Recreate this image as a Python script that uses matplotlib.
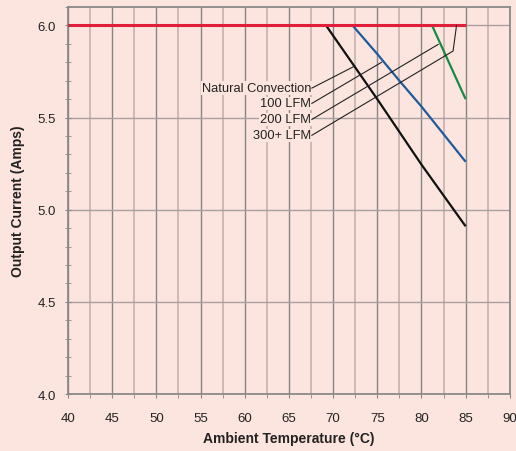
import matplotlib
matplotlib.use("Agg")
import matplotlib.pyplot as plt
from matplotlib import font_manager
from matplotlib.ticker import MultipleLocator

names = {f.name for f in font_manager.fontManager.ttflist}
fam = ["Liberation Sans Narrow"] if "Liberation Sans Narrow" in names else ["Liberation Sans", "DejaVu Sans"]
plt.rcParams["font.family"] = fam + ["DejaVu Sans"]

# Data
temp_nc = [40, 69.2, 75, 80, 85]
amps_nc = [6.0, 6.0, 5.60, 5.245, 4.91]
temp_100 = [40, 72.2, 75, 77.5, 80, 82.5, 85]
amps_100 = [6.0, 6.0, 5.845, 5.70, 5.56, 5.41, 5.26]
temp_200 = [40, 81.2, 85]
amps_200 = [6.0, 6.0, 5.60]
temp_300 = [40, 85]
amps_300 = [6.0, 6.0]
labels = ["Natural Convection", "100 LFM", "200 LFM", "300+ LFM"]
x_ticks = [40, 45, 50, 55, 60, 65, 70, 75, 80, 85, 90]
y_ticks = [4.0, 4.5, 5.0, 5.5, 6.0]

bg = "#FDE5DF"
fig = plt.figure(figsize=(5.16, 4.52), dpi=100, facecolor=bg)
ax = fig.add_axes([0.1318, 0.1261, 0.8562, 0.8562])
ax.set_facecolor(bg)

ax.set_xlim(40, 90)
ax.set_ylim(4.0, 6.1)
ax.set_xticks(x_ticks)
ax.set_yticks(y_ticks)
ax.set_yticklabels([f"{v:.1f}" for v in y_ticks])
ax.xaxis.set_minor_locator(MultipleLocator(2.5))
ax.yaxis.set_minor_locator(MultipleLocator(0.1))

# grid
ax.grid(True, which="major", axis="x", color="#858585", lw=1.0, zorder=1)
ax.grid(True, which="minor", axis="x", color="#C4B2B0", lw=1.2, zorder=1)
ax.grid(True, which="major", axis="y", color="#A8A0A0", lw=1.0, zorder=1)
ax.set_axisbelow(True)
for s in ax.spines.values():
    s.set_color("#8A8A8A")
    s.set_linewidth(1.3)

ax.tick_params(axis="x", which="both", direction="out", length=3, color="#8A8A8A", labelsize=9.5, pad=10, labelcolor="#222222")
ax.tick_params(axis="y", which="both", direction="inout", length=5, color="#8A8A8A", labelsize=9.5, pad=6, labelcolor="#222222")

ax.plot(temp_nc, amps_nc, color="#111111", lw=1.6, zorder=3, solid_capstyle="butt")
ax.plot(temp_100, amps_100, color="#1F5A9C", lw=1.6, zorder=3, solid_capstyle="butt")
ax.plot(temp_200, amps_200, color="#178A45", lw=1.6, zorder=3, solid_capstyle="butt")
ax.plot(temp_300, amps_300, color="#E0203A", lw=2.2, zorder=4, solid_capstyle="butt")

# labels with leader lines
label_y = [5.66, 5.577, 5.49, 5.404]
targets = [[(72.47, 5.78)], [(75.49, 5.80)], [(81.89, 5.897)], [(83.58, 5.861), (83.97, 6.0)]]
for lab, ly, tg in zip(labels, label_y, targets):
    ax.text(67.5, ly, lab, ha="right", va="center", fontsize=9.3, color="#222222", zorder=5,
            bbox=dict(facecolor=bg, edgecolor="none", pad=0.5))
    xs = [67.6] + [p[0] for p in tg]
    ys = [ly] + [p[1] for p in tg]
    ax.plot(xs, ys, color="#222222", lw=0.8, zorder=5)

ax.set_xlabel("Ambient Temperature (°C)", fontsize=10, fontweight="bold", color="#222222", labelpad=5)
ax.set_ylabel("Output Current (Amps)", fontsize=10, fontweight="bold", color="#222222", labelpad=9)

fig.savefig("out.png", dpi=100, facecolor=bg)
